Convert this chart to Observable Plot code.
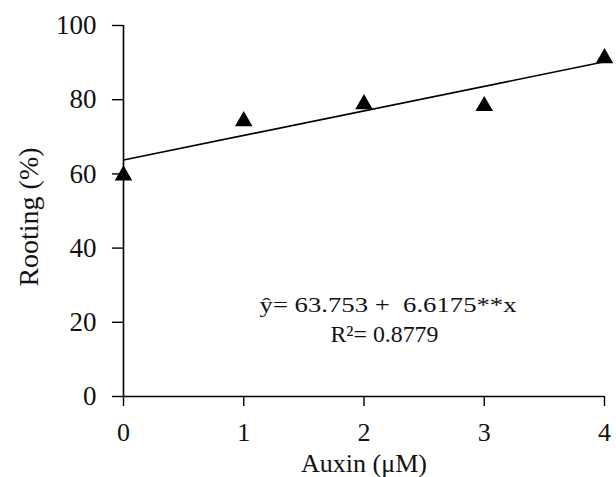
<!DOCTYPE html>
<html><head><meta charset="utf-8">
<script src="https://cdn.jsdelivr.net/npm/d3@7"></script>
<script src="https://cdn.jsdelivr.net/npm/@observablehq/plot@0.6"></script>
<style>body{margin:0;background:#fff;} svg{font-family:"Liberation Serif","Times New Roman",serif;}</style>
</head><body><div id="chart"></div>
<script>
const auxin = [0, 1, 2, 3, 4];
const rooting = [59.6, 74.2, 78.8, 78.3, 91.2];
const xTicks = [0, 1, 2, 3, 4];
const yTicks = [0, 20, 40, 60, 80, 100];
const intercept = 63.753;
const slope = 6.6175;
const eqLines = ["\u0177= 63.753 +  6.6175**x", "R\u00B2= 0.8779"];

const points = auxin.map((x, i) => ({x, y: rooting[i]}));
const fit = [0, 4].map(x => ({x, y: intercept + slope * x}));

const chart = Plot.plot({
  width: 616, height: 477,
  marginLeft: 123, marginRight: 12, marginTop: 25, marginBottom: 81,
  style: {fontFamily: '"Liberation Serif","Times New Roman",serif', fontSize: "27px", color: "#111", background: "#fff"},
  x: {domain: [0, 4], label: null},
  y: {domain: [0, 100], label: null},
  marks: [
    Plot.axisX({ticks: xTicks, tickFormat: d => String(d), tickSize: 10, tickPadding: 16, fontSize: 26, stroke: "#000", strokeWidth: 1.4, label: null}),
    Plot.axisY({ticks: yTicks, tickFormat: d => String(d), tickSize: 11, tickPadding: 16, fontSize: 27, stroke: "#000", strokeWidth: 1.4, label: null}),
    Plot.ruleX([0], {stroke: "#000", strokeWidth: 1.6}),
    Plot.ruleY([0], {stroke: "#000", strokeWidth: 1.6}),
    Plot.line(fit, {x: "x", y: "y", stroke: "#000", strokeWidth: 1.6}),
    Plot.dot(points, {x: "x", y: "y", symbol: "triangle", r: 6.5, fill: "#000", stroke: "none"}),
    Plot.text([eqLines[0]], {x: 2.2, y: 24.6, text: d => d, fontSize: 22, fill: "#111", className: "eq1"}),
    Plot.text([eqLines[1]], {x: 2.17, y: 16.8, text: d => d, fontSize: 23, fill: "#111", className: "eq2"}),
    Plot.text(["Auxin (\u03BCM)"], {x: 2, frameAnchor: "bottom", lineAnchor: "middle", dy: 67, text: d => d, fontSize: 26, fill: "#111"}),
    Plot.text(["Rooting (%)"], {frameAnchor: "left", textAnchor: "middle", lineAnchor: "middle", dx: -94, dy: 6, rotate: -90, text: d => d, fontSize: 28, fill: "#111"})
  ]
});
d3.select(chart).selectAll(".eq1 text").attr("textLength", 257).attr("lengthAdjust", "spacingAndGlyphs");
d3.select(chart).selectAll(".eq2 text").attr("textLength", 108).attr("lengthAdjust", "spacingAndGlyphs");
document.getElementById("chart").appendChild(chart);
</script></body></html>
